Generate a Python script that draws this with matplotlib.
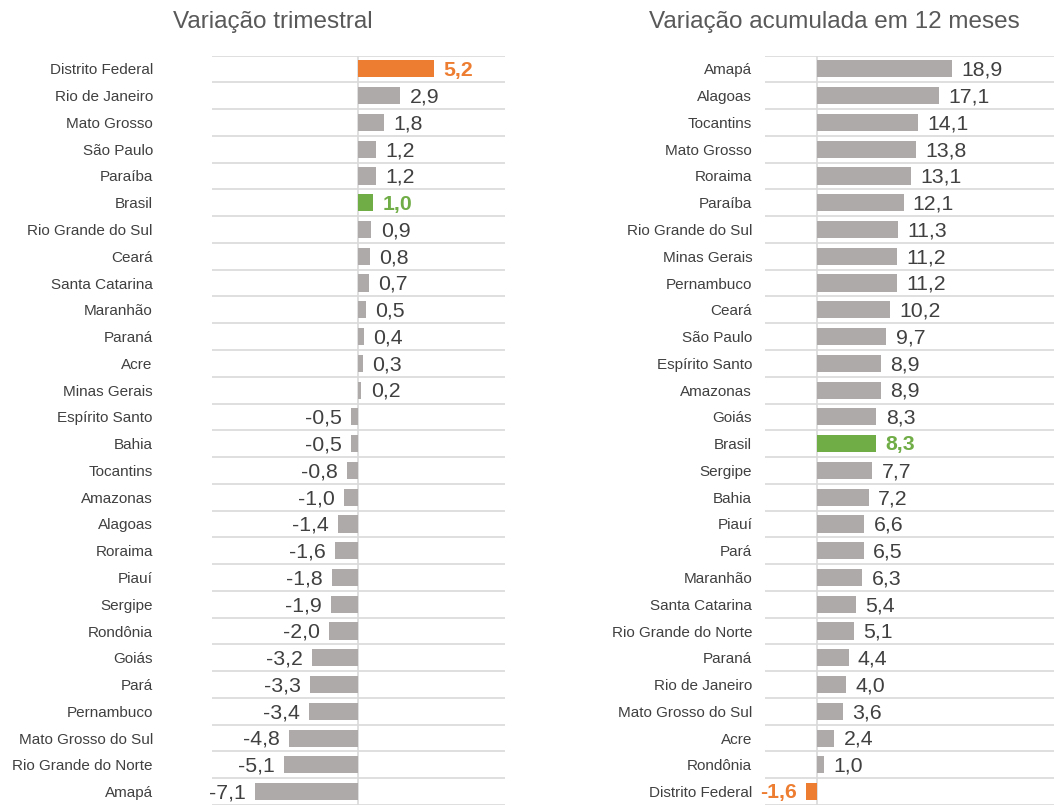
import numpy as np
import matplotlib.pyplot as plt

plt.rcParams['font.family'] = ['Liberation Sans', 'DejaVu Sans']

# Quarterly change, top to bottom
tri_states = ['Distrito Federal', 'Rio de Janeiro', 'Mato Grosso', 'São Paulo', 'Paraíba', 'Brasil',
              'Rio Grande do Sul', 'Ceará', 'Santa Catarina', 'Maranhão', 'Paraná', 'Acre', 'Minas Gerais',
              'Espírito Santo', 'Bahia', 'Tocantins', 'Amazonas', 'Alagoas', 'Roraima', 'Piauí', 'Sergipe',
              'Rondônia', 'Goiás', 'Pará', 'Pernambuco', 'Mato Grosso do Sul', 'Rio Grande do Norte', 'Amapá']
tri_values = [5.2, 2.9, 1.8, 1.2, 1.2, 1.0, 0.9, 0.8, 0.7, 0.5, 0.4, 0.3, 0.2,
              -0.5, -0.5, -0.8, -1.0, -1.4, -1.6, -1.8, -1.9, -2.0, -3.2, -3.3, -3.4, -4.8, -5.1, -7.1]

# 12-month accumulated change, top to bottom
acc_states = ['Amapá', 'Alagoas', 'Tocantins', 'Mato Grosso', 'Roraima', 'Paraíba', 'Rio Grande do Sul',
              'Minas Gerais', 'Pernambuco', 'Ceará', 'São Paulo', 'Espírito Santo', 'Amazonas', 'Goiás',
              'Brasil', 'Sergipe', 'Bahia', 'Piauí', 'Pará', 'Maranhão', 'Santa Catarina',
              'Rio Grande do Norte', 'Paraná', 'Rio de Janeiro', 'Mato Grosso do Sul', 'Acre', 'Rondônia',
              'Distrito Federal']
acc_values = [18.9, 17.1, 14.1, 13.8, 13.1, 12.1, 11.3, 11.2, 11.2, 10.2, 9.7, 8.9, 8.9, 8.3,
              8.3, 7.7, 7.2, 6.6, 6.5, 6.3, 5.4, 5.1, 4.4, 4.0, 3.6, 2.4, 1.0, -1.6]

GRAY = '#aeaaaa'
ORANGE = '#ed7d31'
GREEN = '#70ad47'
TEXT = '#404040'
GRID = '#d9d9d9'


def draw_panel(ax, states, values, title, xlim, label_pad, title_x):
    n = len(states)
    y = np.arange(n)
    colors = []
    for s in states:
        if s == 'Brasil':
            colors.append(GREEN)
        elif s == 'Distrito Federal':
            colors.append(ORANGE)
        else:
            colors.append(GRAY)
    ax.barh(y, values, height=0.64, color=colors, zorder=2)
    ax.set_xlim(*xlim)
    ax.set_ylim(n - 0.5, -0.5)

    # gridlines between categories and zero line
    for b in np.arange(-0.5, n, 1.0):
        ax.axhline(b, color=GRID, lw=1.2, zorder=1)
    ax.axvline(0, color=GRID, lw=1.2, zorder=1)

    # value labels
    span = xlim[1] - xlim[0]
    off = span * 0.032
    for yi, v, c in zip(y, values, colors):
        txt = f'{v:.1f}'.replace('.', ',')
        col = TEXT if c == GRAY else c
        weight = 'normal' if c == GRAY else 'bold'
        if v >= 0:
            ax.text(v + off, yi + 0.05, txt, va='center', ha='left', fontsize=15.3, color=col, fontweight=weight)
        else:
            ax.text(v - off, yi + 0.05, txt, va='center', ha='right', fontsize=15.3, color=col, fontweight=weight)

    ax.set_yticks(y)
    ax.set_yticklabels(states, fontsize=11, color=TEXT)
    ax.tick_params(axis='y', length=0, pad=label_pad)
    ax.set_xticks([])
    for sp in ax.spines.values():
        sp.set_visible(False)
    ax.figure.text(title_x, 0.973, title, ha='center', va='center', fontsize=17.5, color='#595959')


fig = plt.figure(figsize=(10.54, 8.05), dpi=100)
ax1 = fig.add_axes([0.201, 0.0, 0.278, 0.931])
ax2 = fig.add_axes([0.726, 0.0, 0.274, 0.931])

draw_panel(ax1, tri_states, tri_values, 'Variação trimestral', (-10.1, 10.1), 42.5, 0.259)
draw_panel(ax2, acc_states, acc_values, 'Variação acumulada em 12 meses', (-7.3, 33.2), 9.4, 0.792)

fig.savefig('out.png', dpi=100)
